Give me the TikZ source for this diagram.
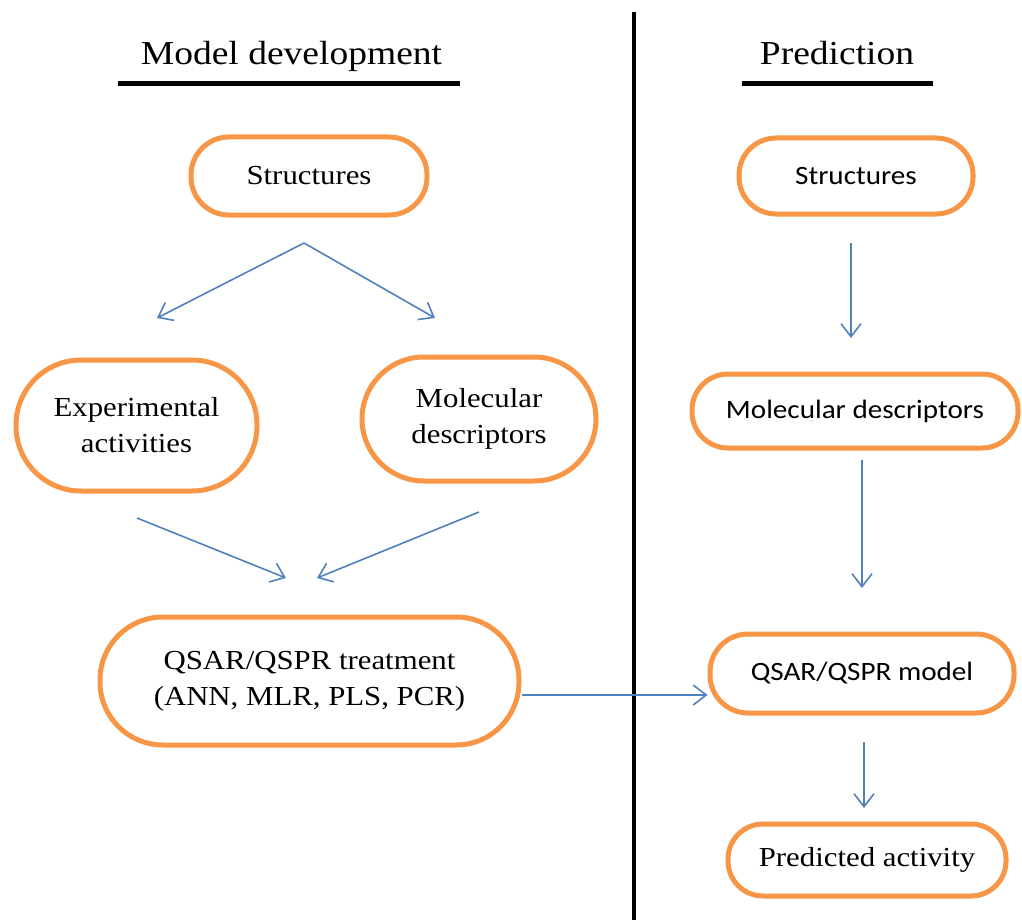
\documentclass[tikz,border=0pt]{standalone}
\usepackage{fontspec}
\usetikzlibrary{arrows.meta,calc}
\newfontfamily\serifw[FakeStretch=1.12]{Liberation Serif}
\newfontfamily\sansw[FakeStretch=1.1]{Carlito}
\definecolor{borange}{HTML}{F79646}
\definecolor{bblue}{HTML}{4F81BD}
\tikzset{
  box/.style={draw=borange, line width=5pt, fill=white, inner sep=0pt, align=center},
  sertext/.style={font=\serifw\fontsize{27.5}{36}\selectfont},
  santext/.style={font=\sansw\fontsize{26.5}{34}\selectfont},
  arr/.style={draw=bblue, line width=1.6pt, -{Straight Barb[length=13pt,width=20pt]}},
  titletext/.style={font=\serifw\fontsize{33.5}{40}\selectfont, anchor=base, inner sep=0pt},
  rule/.style={line width=5pt, black}
}
\begin{document}
\begin{tikzpicture}[x=1pt,y=-1pt]
\useasboundingbox (0,0) rectangle (1022,920);
% divider
\coordinate (dtop) at (634,12);
\coordinate (dbot) at (634,920);
\draw[line width=4pt, black] (dtop) -- (dbot);
% titles
\node[titletext] (t1) at (291.5,65) {Model development};
\node[titletext] (t2) at (837,65) {Prediction};
\coordinate (u1a) at (118,83.5); \coordinate (u1b) at (460,83.5);
\coordinate (u2a) at (742,83.5); \coordinate (u2b) at (933,83.5);
\draw[rule] (u1a) -- (u1b);
\draw[rule] (u2a) -- (u2b);
% left nodes
\node[box, sertext, minimum width=236pt, minimum height=78pt, rounded corners=38pt] (s1) at (309,176) {Structures};
\node[box, sertext, minimum width=241pt, minimum height=131pt, rounded corners=65pt] (ea) at (136.5,425.5) {Experimental\\activities};
\node[box, sertext, minimum width=234pt, minimum height=124pt, rounded corners=62pt] (md1) at (479,419) {Molecular\\descriptors};
\node[box, sertext, minimum width=419pt, minimum height=128pt, rounded corners=63pt] (qt) at (309.5,681) {QSAR/QSPR treatment\\(ANN, MLR, PLS, PCR)};
% right nodes
\node[box, santext, minimum width=234pt, minimum height=76pt, rounded corners=37pt] (s2) at (856,176) {Structures};
\node[box, santext, minimum width=326pt, minimum height=74pt, rounded corners=36pt] (md2) at (855,411) {Molecular descriptors};
\node[box, santext, minimum width=304pt, minimum height=79pt, rounded corners=38pt] (qm) at (862,673.5) {QSAR/QSPR model};
\node[box, sertext, minimum width=278pt, minimum height=72pt, rounded corners=35pt] (pa) at (867,860) {Predicted activity};
% connectors
\coordinate (a1s) at (304,243);
\coordinate (a1e) at (157,318);
\coordinate (a2e) at (435,318);
\draw[arr] (a1s) -- (a1e);
\draw[arr] (a1s) -- (a2e);
\coordinate (a3s) at (137,518);
\coordinate (a3e) at (286,578);
\coordinate (a4s) at (479,512);
\coordinate (a4e) at (317,578);
\draw[arr] (a3s) -- (a3e);
\draw[arr] (a4s) -- (a4e);
\coordinate (a5s) at (851,243);
\coordinate (a5e) at (851,338);
\draw[arr] (a5s) -- (a5e);
\coordinate (a6s) at (862,460);
\coordinate (a6e) at (862,588);
\draw[arr] (a6s) -- (a6e);
\coordinate (a7s) at (864,742);
\coordinate (a7e) at (864,808);
\draw[arr] (a7s) -- (a7e);
\coordinate (hs) at ($(qt.east)+(0,14)$);
\draw[arr] (hs) -- (qm.west |- hs);
\end{tikzpicture}
\end{document}
